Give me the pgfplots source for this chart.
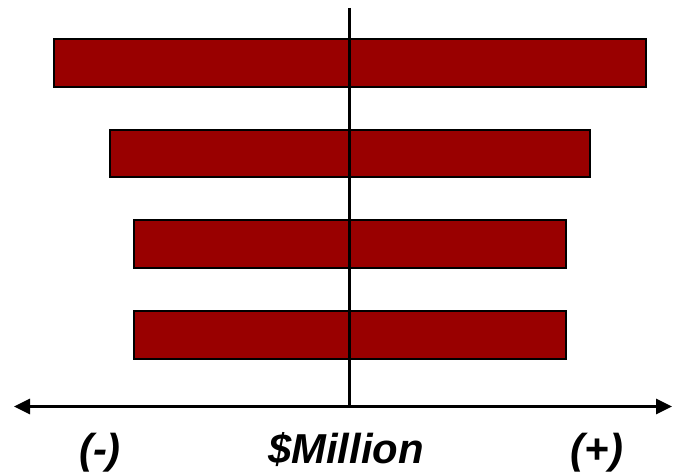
\documentclass[border=0pt]{standalone}
\usepackage{fontspec}
\setmainfont{Liberation Sans}
\usepackage{pgfplots}
\pgfplotsset{compat=1.18}
\usetikzlibrary{arrows.meta}
\definecolor{barred}{HTML}{990000}

\begin{document}
\begin{tikzpicture}
\begin{axis}[
  scale only axis,
  width=673bp, height=476bp,
  xmin=-349, xmax=324,
  ymin=0, ymax=476,
  y dir=reverse,
  hide axis,
  clip=false,
]
  % downside (left) half of each tornado bar
  \addplot[xbar, bar width=47.5, bar shift=0pt, fill=barred, draw=black, line width=2.4bp]
    coordinates {(-295.3,63) (-239,153.5) (-215.3,244) (-215.3,335)};
  % upside (right) half of each tornado bar
  \addplot[xbar, bar width=47.5, bar shift=0pt, fill=barred, draw=black, line width=2.4bp]
    coordinates {(296.7,63) (240.7,153.5) (216.7,244) (216.7,335)};

  % base case line and the value axis
  \draw[line width=3bp] (axis cs:0,8) -- (axis cs:0,406.5);
  \draw[line width=3bp, {Triangle[length=16bp,width=15bp]}-{Triangle[length=16bp,width=15bp]}]
    (axis cs:-335,406.5) -- (axis cs:323,406.5);

  \begin{scope}[font=\fontsize{42}{48}\selectfont\bfseries\itshape]
    \node[anchor=base] at (axis cs:-249,463) {(-)};
    \node[anchor=base] at (axis cs:-3,463) {\$Million};
    \node[anchor=base] at (axis cs:248,463) {(+)};
  \end{scope}
\end{axis}
\pgfresetboundingbox
\path (0,0) rectangle (673bp,476bp);
\end{tikzpicture}
\end{document}
